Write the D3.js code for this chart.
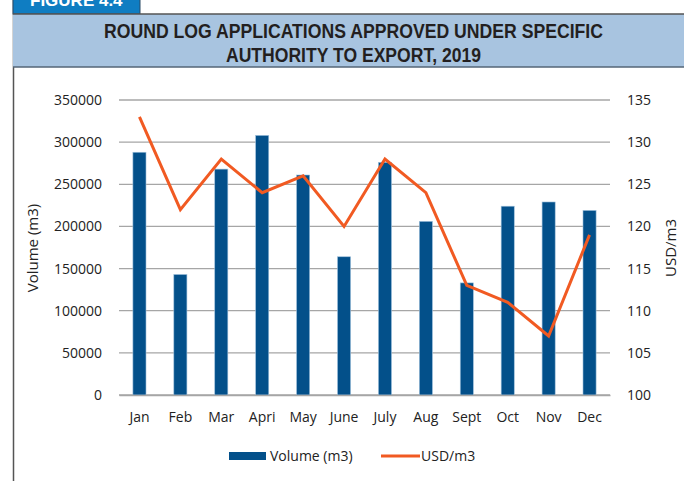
<!DOCTYPE html>
<html><head><meta charset="utf-8">
<script src="https://cdn.jsdelivr.net/npm/d3@7"></script>
<style>
html,body{margin:0;padding:0;background:#fff;}
svg{display:block;}
</style></head>
<body>
<script>
const months = ["Jan","Feb","Mar","Apri","May","June","July","Aug","Sept","Oct","Nov","Dec"];
const volume = [288000,143000,268000,308000,261000,164000,276000,206000,133000,224000,229000,219000];
const usdPerM3 = [133,122,128,124,126,120,128,124,113,111,107,119];
const leftTicks = [0,50000,100000,150000,200000,250000,300000,350000];
const rightTicks = [100,105,110,115,120,125,130,135];
const titleLines = ["ROUND LOG APPLICATIONS APPROVED UNDER SPECIFIC","AUTHORITY TO EXPORT, 2019"];
const titleWidths = [499,255];

const W = 684, H = 481;
const svg = d3.select("body").append("svg").attr("width",W).attr("height",H);
const font = "'Open Sans', sans-serif";

// frame / header
svg.append("line").attr("x1",13.5).attr("x2",13.5).attr("y1",0).attr("y2",H)
  .attr("stroke","#555").attr("stroke-width",1.5);
svg.append("rect").attr("x",13).attr("y",-2).attr("width",127).attr("height",16)
  .attr("fill","#0f7dc2").attr("stroke","#2a4a66").attr("stroke-width",1);
svg.append("text").attr("x",30).attr("y",6).attr("fill","#fff")
  .attr("font-family","'Liberation Sans', Arial, sans-serif").attr("font-weight","bold")
  .attr("font-size",17).text("FIGURE 4.4");
svg.append("rect").attr("x",13).attr("y",14).attr("width",W-13).attr("height",53)
  .attr("fill","#a8c4e0");
svg.append("line").attr("x1",13).attr("x2",W).attr("y1",14).attr("y2",14).attr("stroke","#555").attr("stroke-width",1.5);
svg.append("line").attr("x1",13).attr("x2",W).attr("y1",67).attr("y2",67).attr("stroke","#556677").attr("stroke-width",1.5);
titleLines.forEach((t,i)=>{
  svg.append("text").attr("x",353.5).attr("y",38+i*24).attr("text-anchor","middle")
    .attr("font-family","'Liberation Sans Narrow', 'Arial Narrow', 'Liberation Sans', sans-serif")
    .attr("font-weight","bold").attr("font-size",20).attr("fill","#231f20")
    .attr("textLength",titleWidths[i]).attr("lengthAdjust","spacingAndGlyphs").text(t);
});

const m = {l:119, r:610, t:100, b:395};
const x = d3.scaleBand().domain(months).range([m.l,m.r]).paddingInner(0.68).paddingOuter(0.34);
const yL = d3.scaleLinear().domain([0,350000]).range([m.b,m.t]);
const yR = d3.scaleLinear().domain([100,135]).range([m.b,m.t]);

// gridlines
svg.append("g").selectAll("line").data(leftTicks).join("line")
  .attr("x1",m.l).attr("x2",m.r).attr("y1",d=>yL(d)).attr("y2",d=>yL(d))
  .attr("stroke","#a6a6a6").attr("stroke-width",1.3);

// left axis labels
const gL = svg.append("g").attr("transform",`translate(${m.l},0)`)
  .call(d3.axisLeft(yL).tickValues(leftTicks).tickSize(0).tickPadding(17).tickFormat(d3.format("d")));
gL.select(".domain").remove();
gL.selectAll("text").attr("font-family",font).attr("font-size",14).attr("fill","#222");

const gR = svg.append("g").attr("transform",`translate(${m.r},0)`)
  .call(d3.axisRight(yR).tickValues(rightTicks).tickSize(0).tickPadding(17));
gR.select(".domain").remove();
gR.selectAll("text").attr("font-family",font).attr("font-size",14).attr("fill","#222");

// bars
svg.append("g").selectAll("rect").data(volume).join("rect")
  .attr("x",(d,i)=>x(months[i])).attr("width",x.bandwidth())
  .attr("y",d=>yL(d)).attr("height",d=>m.b-yL(d))
  .attr("fill","#03508a").attr("stroke","#9fc0dc").attr("stroke-width",0.6);

// x axis
const gX = svg.append("g").attr("transform",`translate(0,${m.b})`)
  .call(d3.axisBottom(x).tickSize(0).tickPadding(17));
gX.select(".domain").attr("stroke","#a6a6a6").attr("stroke-width",1.3);
gX.selectAll("text").attr("font-family",font).attr("font-size",14).attr("fill","#222");

// line
const line = d3.line().x((d,i)=>x(months[i])+x.bandwidth()/2).y(d=>yR(d));
svg.append("path").datum(usdPerM3).attr("d",line).attr("fill","none")
  .attr("stroke","#f15a22").attr("stroke-width",3).attr("stroke-linejoin","miter");

// axis titles
svg.append("text").attr("transform",`translate(38,248) rotate(-90)`).attr("text-anchor","middle")
  .attr("font-family",font).attr("font-size",15).attr("fill","#222").text("Volume (m3)");
svg.append("text").attr("transform",`translate(676,248) rotate(-90)`).attr("text-anchor","middle")
  .attr("font-family",font).attr("font-size",15).attr("fill","#222").text("USD/m3");

// legend
const lg = svg.append("g");
lg.append("rect").attr("x",229).attr("y",452).attr("width",37).attr("height",8).attr("fill","#03508a");
lg.append("text").attr("x",270).attr("y",461).attr("font-family",font).attr("font-size",14).attr("fill","#222").text("Volume (m3)");
lg.append("line").attr("x1",381).attr("x2",420).attr("y1",456).attr("y2",456).attr("stroke","#f15a22").attr("stroke-width",3);
lg.append("text").attr("x",421).attr("y",461).attr("font-family",font).attr("font-size",14).attr("fill","#222").text("USD/m3");
</script>
</body></html>
